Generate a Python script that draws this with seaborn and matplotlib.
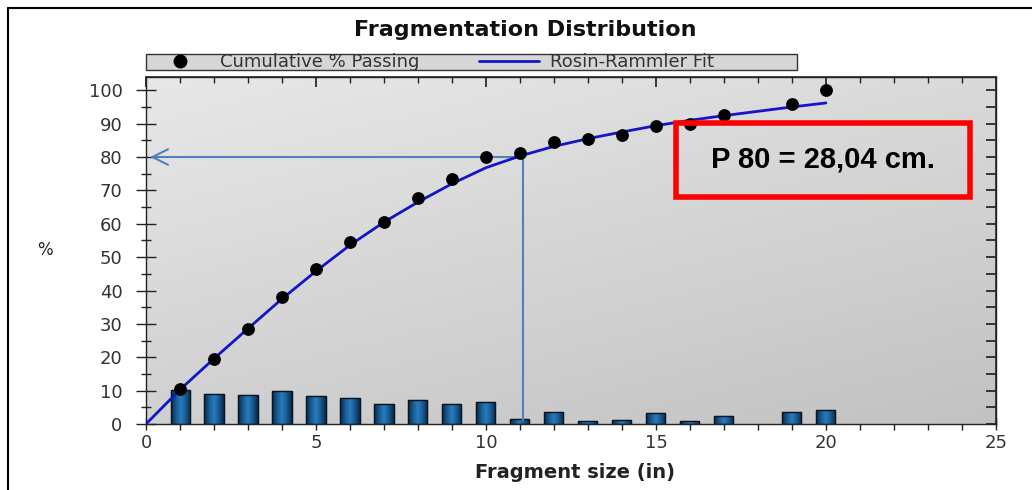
import numpy as np
import pandas as pd
import matplotlib
matplotlib.use("Agg")
import matplotlib.pyplot as plt
from matplotlib.lines import Line2D
from matplotlib.colors import LinearSegmentedColormap
from matplotlib.patches import Rectangle
import seaborn as sns

# --- data -------------------------------------------------------------
sizes_in = [1, 2, 3, 4, 5, 6, 7, 8, 9, 10, 11, 12, 13, 14, 15, 16, 17, 19, 20]
cum_passing = [10.5, 19.5, 28.5, 38.0, 46.5, 54.6, 60.4, 67.6, 73.3, 79.9,
               81.1, 84.4, 85.3, 86.5, 89.2, 89.8, 92.5, 95.8, 100.0]
retained_pct = [10.3, 9.1, 8.7, 10.0, 8.4, 7.7, 5.9, 7.3, 5.9, 6.6,
                1.4, 3.5, 0.8, 1.1, 3.2, 0.8, 2.5, 3.5, 4.2]

fit_x = [0, 1, 2, 3, 4, 5, 6, 7, 8, 9, 10, 11, 12, 13, 14, 15, 16, 17, 18, 19, 20]
fit_y = [0.0, 10.3, 19.6, 28.6, 37.5, 45.8, 53.6, 60.5, 66.5, 72.0, 76.8,
         80.3, 83.2, 85.5, 87.5, 89.4, 91.0, 92.4, 93.7, 95.0, 96.2]

p80_size = 11.1
p80_pct = 80
p80_label = "P 80 = 28,04 cm."

x_ticks = [0, 5, 10, 15, 20, 25]
y_ticks = [0, 10, 20, 30, 40, 50, 60, 70, 80, 90, 100]

pts = pd.DataFrame({"size": sizes_in, "cum": cum_passing})
bars = pd.DataFrame({"size": sizes_in, "ret": retained_pct})
fit = pd.DataFrame({"size": fit_x, "pct": fit_y})

# --- figure -----------------------------------------------------------
sns.set_theme(style="white")
plt.rcParams["font.family"] = ["DejaVu Sans"]

fig = plt.figure(figsize=(10.32, 4.9), dpi=100)
ax = fig.add_axes([0.1415, 0.1347, 0.8235, 0.7083])

# shaded plot background
grad = np.add.outer(np.linspace(0, 1, 200), np.linspace(0, 0.6, 200))
bg_cmap = LinearSegmentedColormap.from_list("bg", ["#e8e8e8", "#c2c2c2"])
ax.imshow(grad, cmap=bg_cmap, extent=[0, 1, 0, 1], transform=ax.transAxes,
          aspect="auto", zorder=0, origin="upper")

# retained-size bars
sns.barplot(data=bars, x="size", y="ret", native_scale=True, width=0.56,
            color="#1d5f96", edgecolor="#0a1a2a", linewidth=0.8,
            errorbar=None, ax=ax, zorder=2)
bar_cmap = LinearSegmentedColormap.from_list(
    "bar", ["#0b2a48", "#17598f", "#2a7cc0", "#17598f", "#0b2a48"])
for patch in list(ax.patches):
    x0, y0 = patch.get_x(), patch.get_y()
    w, h = patch.get_width(), patch.get_height()
    if h <= 0:
        continue
    im = ax.imshow(np.linspace(0, 1, 64).reshape(1, -1), cmap=bar_cmap,
                   extent=[x0, x0 + w, y0, y0 + h], aspect="auto", zorder=2.1)
    im.set_clip_path(patch)
    ax.add_patch(Rectangle((x0, y0), w, h, fill=False, edgecolor="#08141f",
                           linewidth=1.0, zorder=2.2))

# Rosin-Rammler fit and measured points
sns.lineplot(data=fit, x="size", y="pct", color="#1414c8", linewidth=2.0,
             ax=ax, zorder=3)
sns.scatterplot(data=pts, x="size", y="cum", color="black", s=85,
                edgecolor="black", linewidth=0, ax=ax, zorder=4)

# P80 guide lines
ax.plot([p80_size, p80_size], [p80_pct, 1.2], color="#4f81bd", lw=1.5, zorder=2.5)
ax.annotate("", xy=(0.12, p80_pct), xytext=(p80_size, p80_pct),
            arrowprops=dict(arrowstyle="->", color="#4f81bd", lw=1.5,
                            mutation_scale=28, shrinkA=0, shrinkB=0),
            zorder=2.5)

# P80 callout box
ax.add_patch(Rectangle((0.624, 0.654), 0.345, 0.213, transform=ax.transAxes,
                       fill=False, edgecolor="#ff0000", linewidth=4, zorder=5,
                       clip_on=False))
ax.text(0.7965, 0.762, p80_label, transform=ax.transAxes, ha="center",
        va="center", fontsize=21, fontweight="bold", color="black",
        family=["Liberation Sans", "DejaVu Sans"], zorder=6)

# axes limits and ticks
ax.set_xlim(0, 25)
ax.set_ylim(0, 104)
ax.set_xticks(x_ticks)
ax.set_xticks(np.arange(0, 26, 1), minor=True)
ax.set_yticks(y_ticks)
ax.set_yticks(np.arange(5, 100, 10), minor=True)
ax.tick_params(right=False, top=False, which="both")
ax.tick_params(axis="y", which="major", direction="inout", length=14,
               width=1, color="#222222", labelsize=13, labelcolor="#333333",
               pad=10, left=True)
ax.tick_params(axis="y", which="minor", direction="inout", length=7,
               width=1, color="#222222", left=True)
ax.tick_params(axis="x", which="major", direction="inout", length=9,
               width=1, color="#222222", labelsize=13, labelcolor="#333333",
               pad=3, bottom=True)
ax.tick_params(axis="x", which="minor", direction="out", length=4,
               width=1, color="#222222", bottom=True)

top = ax.secondary_xaxis("top")
top.set_xticks(x_ticks)
top.set_xticks(np.arange(0, 26, 1), minor=True)
top.set_xticklabels([])
top.tick_params(which="major", direction="in", length=7, color="#222222")
top.tick_params(which="minor", direction="in", length=4, color="#222222")
top.spines["top"].set_color("#333333")

right = ax.secondary_yaxis("right")
right.set_yticks(np.arange(0, 105, 5))
right.set_yticklabels([])
right.tick_params(direction="in", length=7, color="#222222")
right.spines["right"].set_color("#333333")

for s in ax.spines.values():
    s.set_visible(True)
    s.set_color("#222222")
    s.set_linewidth(1)

ax.set_xlabel("Fragment size (in)", fontsize=14, fontweight="bold",
              color="#222222")
ax.xaxis.set_label_coords(0.505, -0.112)
ax.set_ylabel("%", rotation=0, fontsize=12, color="#222222",
              ha="center", va="center")
ax.yaxis.set_label_coords(-0.119, 0.50)

# legend strip above the plot
ax.add_patch(Rectangle((0, 1.02), 0.766, 0.046, transform=ax.transAxes,
                       facecolor="#d6d6d6", edgecolor="#333333", linewidth=1,
                       clip_on=False, zorder=1))
handles = [
    Line2D([], [], marker="o", color="none", markerfacecolor="black",
           markeredgecolor="black", markersize=9),
    Line2D([], [], color="#1414c8", linewidth=2),
]
ax.legend(handles, ["Cumulative % Passing", "Rosin-Rammler Fit"],
          loc="center left", bbox_to_anchor=(0.0047, 1.043), ncol=2,
          frameon=False, fontsize=13, borderpad=0, handlelength=3.3,
          handletextpad=0.6, columnspacing=3.3, borderaxespad=0,
          labelcolor="#333333")

fig.text(0.509, 0.938, "Fragmentation Distribution", ha="center",
         va="center", fontsize=16, fontweight="bold", color="#111111")

# outer frame lines
fig.add_artist(Line2D([0.008, 0.008], [0.0, 0.984], color="black", lw=1.5,
                      transform=fig.transFigure))
fig.add_artist(Line2D([0.008, 1.0], [0.984, 0.984], color="black", lw=1.5,
                      transform=fig.transFigure))

fig.savefig("out.png", dpi=100)
